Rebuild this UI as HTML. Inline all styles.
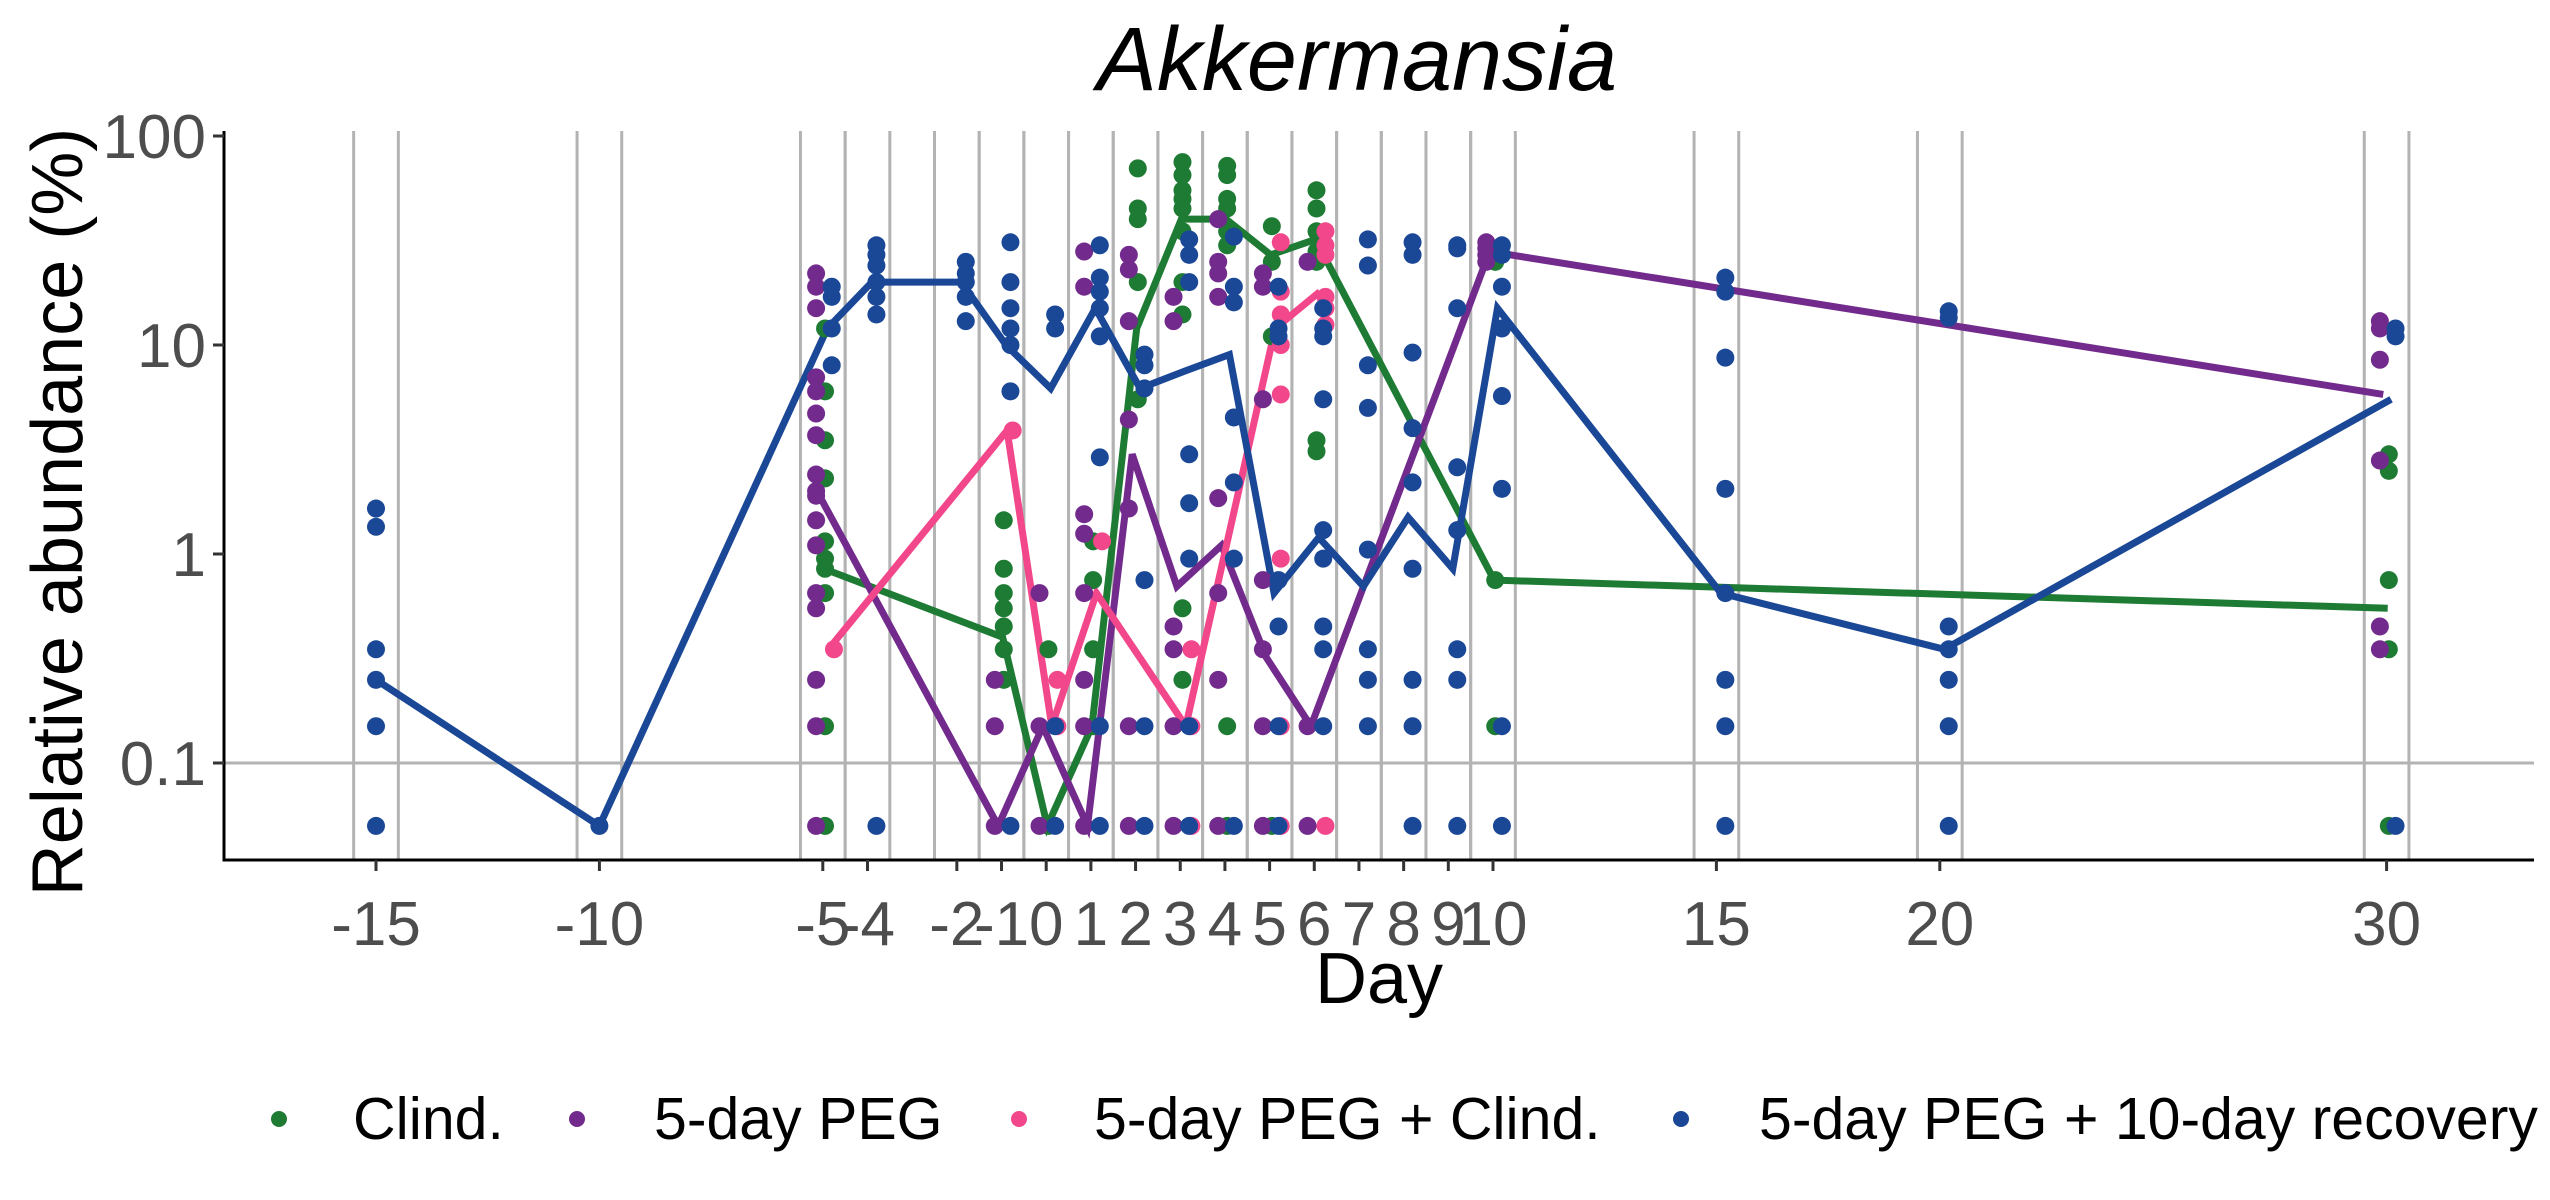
<!DOCTYPE html>
<html><head><meta charset="utf-8"><style>
html,body{margin:0;padding:0;background:#fff;}
svg{display:block;font-family:"Liberation Sans",Arial,sans-serif;}
</style></head><body>
<svg id="chart" width="2550" height="1200" viewBox="0 0 2550 1200" xmlns="http://www.w3.org/2000/svg">
<text x="1357" y="90" font-size="90" font-style="italic" text-anchor="middle" fill="#000">Akkermansia</text>
<g id="grid"></g>
<g id="lines"></g>
<g id="points"></g>
<g id="axes"></g>
<text x="0" y="0" transform="translate(82,512) rotate(-90)" font-size="72" text-anchor="middle" fill="#000">Relative abundance (%)</text>
<text x="1379" y="1003" font-size="72" text-anchor="middle" fill="#000">Day</text>
<g font-size="59">
<g><circle cx="279" cy="1119" r="8" fill="#1e7b34"/><text x="353" y="1139">Clind.</text></g>
<g><circle cx="577" cy="1119" r="8" fill="#722b8c"/><text x="654" y="1139">5-day PEG</text></g>
<g><circle cx="1019" cy="1119" r="8" fill="#f2478a"/><text x="1094" y="1139">5-day PEG + Clind.</text></g>
<g><circle cx="1681" cy="1119" r="8" fill="#1a4796"/><text x="1759" y="1139">5-day PEG + 10-day recovery</text></g>
</g>
</svg>
<script>
const tickDays=[-15,-10,-5,-4,-2,-1,0,1,2,3,4,5,6,7,8,9,10,15,20,30];
const yTicks=[100,10,1,0.1];
const yTickLabels=["100","10","1","0.1"];

const greenLineDays=[-5,-1,0,1,2,3,4,5,6,10,30];
const greenLineVals=[0.85,0.4,0.05,0.15,12,40,40,27,32,0.75,0.55];
const purpleLineDays=[-5,-1,0,1,2,3,4,5,6,10,30];
const purpleLineVals=[1.9,0.05,0.15,0.05,3,0.7,1.1,0.32,0.15,28,5.8];
const pinkLineDays=[-5,-1,0,1,3,5,6];
const pinkLineVals=[0.35,3.9,0.15,0.65,0.15,12,18];
const blueLineDays=[-15,-10,-5,-4,-2,-1,0,1,2,3,4,5,6,7,8,9,10,15,20,30];
const blueLineVals=[0.25,0.05,12,20,20,10,6.2,15,6.2,7.5,9,0.65,1.2,0.7,1.5,0.85,15,0.65,0.35,5.5];

const greenPtDays=[-5,-5,-5,-5,-5,-5,-5,-5,-5,-5,-1,-1,-1,-1,-1,-1,-1,0,0,1,1,1,1,2,2,2,2,2,3,3,3,3,3,3,3,3,3,3,4,4,4,4,4,4,4,4,5,5,5,5,6,6,6,6,6,6,6,10,10,10,30,30,30,30,30];
const greenPtVals=[12,6,3.5,2.3,1.15,0.95,0.85,0.65,0.15,0.05,1.45,0.85,0.65,0.55,0.45,0.35,0.25,0.35,0.05,1.15,0.75,0.35,0.15,70,45,40,20,5.5,75,65,55,50,45,35,20,14,0.55,0.25,72,65,50,45,35,30,0.15,0.05,37,25,11,0.05,55,45,35,28,25,3.5,3.1,25,0.75,0.15,3,2.5,0.75,0.35,0.05];
const purplePtDays=[-5,-5,-5,-5,-5,-5,-5,-5,-5,-5,-5,-5,-5,-5,-5,-5,-5,-1,-1,-1,0,0,0,1,1,1,1,1,1,1,1,2,2,2,2,2,2,2,3,3,3,3,3,3,4,4,4,4,4,4,4,4,5,5,5,5,5,5,5,6,6,6,10,10,10,10,30,30,30,30,30,30];
const purplePtVals=[22,19,15,7,6,4.7,3.7,2.4,2,1.9,1.45,1.1,0.65,0.55,0.25,0.15,0.05,0.25,0.15,0.05,0.65,0.15,0.05,28,19,1.55,1.25,0.65,0.25,0.15,0.05,27,23,13,4.4,1.65,0.15,0.05,17,13,0.45,0.35,0.15,0.05,40,25,22,17,1.85,0.65,0.25,0.05,22,19,5.5,0.75,0.35,0.15,0.05,25,0.15,0.05,31,29,27,25,13,12,8.5,2.8,0.45,0.35];
const pinkPtDays=[-5,-1,0,0,1,3,3,3,5,5,5,5,5,5,5,5,6,6,6,6,6,6,6];
const pinkPtVals=[0.35,3.9,0.25,0.15,1.15,0.35,0.15,0.05,31,18,14,10,5.8,0.95,0.15,0.05,35,30,27,17,15,12.5,0.05];
const bluePtDays=[-15,-15,-15,-15,-15,-15,-10,-5,-5,-5,-5,-4,-4,-4,-4,-4,-4,-4,-2,-2,-2,-2,-2,-1,-1,-1,-1,-1,-1,-1,0,0,0,0,1,1,1,1,1,1,1,1,2,2,2,2,2,2,3,3,3,3,3,3,3,3,4,4,4,4,4,4,4,5,5,5,5,5,5,5,6,6,6,6,6,6,6,6,6,7,7,7,7,7,7,7,7,8,8,8,8,8,8,8,8,8,9,9,9,9,9,9,9,9,10,10,10,10,10,10,10,10,15,15,15,15,15,15,15,15,20,20,20,20,20,20,20,30,30,30];
const bluePtVals=[1.65,1.35,0.35,0.25,0.15,0.05,0.05,19,17,12,8,30,27,24,20,17,14,0.05,25,22,20,17,13,31,20,15,12,10,6,0.05,14,12,0.15,0.05,30,21,18,15,11,2.9,0.15,0.05,9,8,6.2,0.75,0.15,0.05,32,27,20,3,1.75,0.95,0.15,0.05,33,19,16,4.5,2.2,0.95,0.05,19,12,11,0.75,0.45,0.15,0.05,15,12,11,5.5,1.3,0.95,0.45,0.35,0.15,32,24,8,5,1.05,0.35,0.25,0.15,31,27,9.2,4,2.2,0.85,0.25,0.15,0.05,30,29,15,2.6,1.3,0.35,0.25,0.05,30,27,19,12,5.7,2.05,0.15,0.05,21,18,8.7,2.05,0.65,0.25,0.15,0.05,14.5,13.5,0.45,0.35,0.25,0.15,0.05,12,11,0.05];

const NS="http://www.w3.org/2000/svg";
const X0=224,X1=2534,YTOP=131,YBOT=860;
function xs(d){return 376+(d+15)*44.68;}
function ys(v){return 763-(Math.log10(v)+1)*209;}
function mk(tag,attrs,parent){const e=document.createElementNS(NS,tag);for(const k in attrs)e.setAttribute(k,attrs[k]);parent.appendChild(e);return e;}
const grid=document.getElementById('grid'),lines=document.getElementById('lines'),pts=document.getElementById('points'),axes=document.getElementById('axes');

tickDays.forEach(d=>{[-0.5,0.5].forEach(o=>{
  const l=mk('line',{x1:xs(d+o),x2:xs(d+o),y1:YTOP,y2:YBOT,stroke:'#b3b3b3','stroke-width':3},grid);
  
  
});});
const hg=mk('line',{x1:X0,x2:X1,y1:ys(0.1),y2:ys(0.1),stroke:'#b3b3b3','stroke-width':3},grid);



const series=[
 {name:'clind',color:'#1e7b34',ld:greenLineDays,lv:greenLineVals,pd:greenPtDays,pv:greenPtVals,off:0.05},
 {name:'peg',color:'#722b8c',ld:purpleLineDays,lv:purpleLineVals,pd:purplePtDays,pv:purplePtVals,off:-0.15},
 {name:'peg-clind',color:'#f2478a',ld:pinkLineDays,lv:pinkLineVals,pd:pinkPtDays,pv:pinkPtVals,off:0.25},
 {name:'peg-recovery',color:'#1a4796',ld:blueLineDays,lv:blueLineVals,pd:bluePtDays,pv:bluePtVals,off:0.2}
];
series.forEach(s=>{
  const off=d=>(s.name==='peg-recovery'&&d<=-10)?0:s.off;
  const p=s.ld.map((d,i)=>xs(d+off(d)*0.5)+','+ys(s.lv[i])).join(' ');
  const pl=mk('polyline',{points:p,fill:'none',stroke:s.color,'stroke-width':7,'stroke-linejoin':'miter'},lines);
  
  
  s.pd.forEach((d,i)=>{
    const c=mk('circle',{cx:xs(d+off(d)),cy:ys(s.pv[i]),r:9,fill:s.color},pts);
    
    
  });
});

const ax=mk('path',{d:`M${X0},${YTOP} V${YBOT} H${X1}`,fill:'none',stroke:'#000','stroke-width':3},axes);


yTicks.forEach((v,i)=>{
  mk('line',{x1:X0-11,x2:X0,y1:ys(v),y2:ys(v),stroke:'#333','stroke-width':3},axes);
  const t=mk('text',{x:X0-18,y:ys(v)+22,'font-size':62,'text-anchor':'end',fill:'#4d4d4d'},axes);
  t.textContent=yTickLabels[i];
  
  
});
tickDays.forEach(d=>{
  mk('line',{x1:xs(d),x2:xs(d),y1:YBOT,y2:YBOT+11,stroke:'#333','stroke-width':3},axes);
  const t=mk('text',{x:xs(d),y:945,'font-size':62,'text-anchor':'middle',fill:'#4d4d4d'},axes);
  t.textContent=String(d);
  
  
});
</script>
</body></html>
